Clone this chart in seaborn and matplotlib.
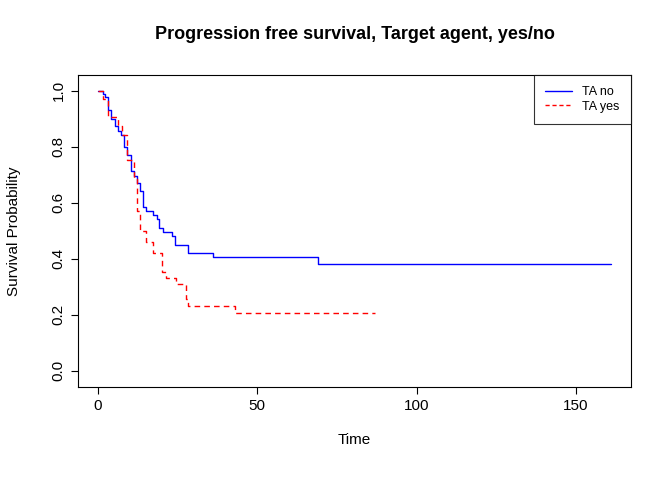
import matplotlib
matplotlib.use("Agg")
import matplotlib.pyplot as plt
import seaborn as sns
import pandas as pd
from matplotlib.lines import Line2D

no_t = [0, 0.6, 1.5, 2.3, 3.2, 4.2, 5.3, 6.4, 7.3, 8.3, 9.1, 10.4, 11.4, 12.2, 13.2, 14.2, 15.1,
        17.4, 18.4, 19.2, 20.3, 23.3, 24.3, 28.3, 36.2, 69.0, 161.0]
no_s = [1.0, 1.0, 0.99, 0.977, 0.93, 0.90, 0.873, 0.857, 0.843, 0.80, 0.77, 0.714, 0.697, 0.67,
        0.643, 0.584, 0.571, 0.557, 0.542, 0.509, 0.495, 0.482, 0.449, 0.42, 0.407, 0.383, 0.383]
yes_t = [0, 1.5, 3.2, 6.4, 7.4, 9.1, 11.4, 12.2, 13.3, 15.1, 17.4, 20.2, 21.3, 24.4, 27.5, 28.3,
         43.1, 87.0]
yes_s = [1.0, 0.97, 0.906, 0.873, 0.843, 0.752, 0.686, 0.572, 0.50, 0.46, 0.42, 0.352, 0.33,
         0.311, 0.255, 0.23, 0.206, 0.206]

df = pd.concat([
    pd.DataFrame({"Time": no_t, "S": no_s, "grp": "TA no"}),
    pd.DataFrame({"Time": yes_t, "S": yes_s, "grp": "TA yes"}),
])

sns.set_style("white")
plt.rcParams["font.family"] = ["Liberation Sans", "DejaVu Sans"]
plt.rcParams["text.color"] = "black"
plt.rcParams["axes.labelcolor"] = "black"
plt.rcParams["xtick.color"] = "black"
plt.rcParams["ytick.color"] = "black"
fig = plt.figure(figsize=(6.72, 4.8), dpi=100)
ax = fig.add_axes([0.116, 0.194, 0.823, 0.650])
sns.lineplot(data=df, x="Time", y="S", hue="grp", style="grp",
             palette={"TA no": "blue", "TA yes": "red"},
             dashes={"TA no": "", "TA yes": (4, 3)},
             drawstyle="steps-post", linewidth=1, ax=ax, legend=False)
ax.set_xlim(-6.3, 167.3)
ax.set_ylim(-0.057, 1.057)
ax.set_xticks([0, 50, 100, 150])
ax.set_yticks([0, 0.2, 0.4, 0.6, 0.8, 1.0])
ax.set_yticklabels(["0.0", "0.2", "0.4", "0.6", "0.8", "1.0"], rotation=90, va="center")
ax.tick_params(labelsize=11, length=5, left=True, bottom=True, direction="out", width=0.8, pad=4)
for sp in ax.spines.values():
    sp.set_color("black"); sp.set_linewidth(0.8)
ax.set_xlabel("Time", fontsize=11, labelpad=14)
ax.set_ylabel("Survival Probability", fontsize=11, labelpad=22)
ax.set_title("Progression free survival, Target agent, yes/no", fontsize=13, fontweight="bold", pad=26, color="black")
h = [Line2D([], [], color="blue", lw=1), Line2D([], [], color="red", lw=1, ls=(0, (3, 2)))]
leg = ax.legend(h, ["TA no", "TA yes"], loc="upper right", bbox_to_anchor=(1.0, 1.0),
                fontsize=9, frameon=True, fancybox=False, borderaxespad=0, handlelength=2.2,
                labelspacing=0.2, borderpad=0.9)
leg.get_frame().set_edgecolor("black"); leg.get_frame().set_linewidth(0.8)
fig.savefig("out.png", dpi=100)
